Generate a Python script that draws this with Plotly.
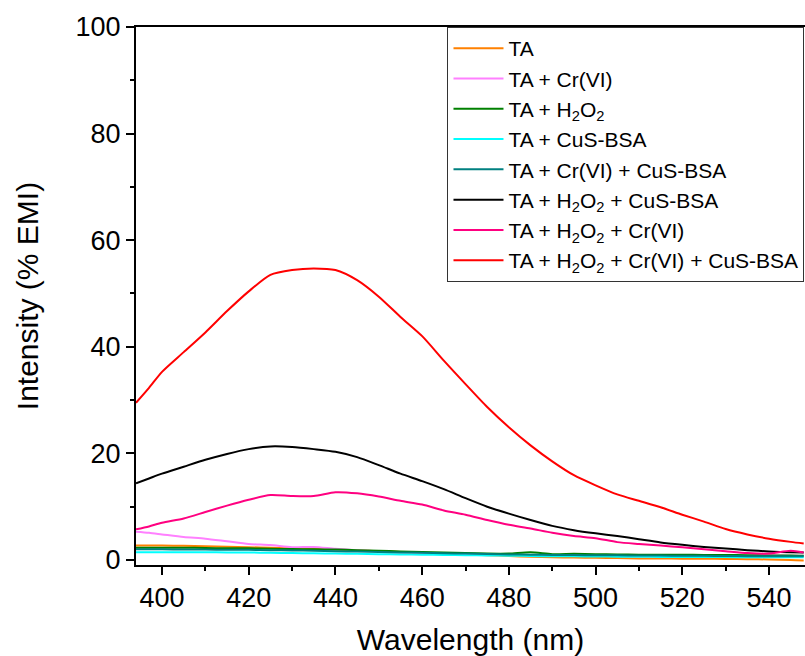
import plotly.graph_objects as go

wavelength = [394, 397, 400, 405, 410, 415, 420, 425, 430, 435, 440, 445, 450, 455, 460, 465,
              470, 475, 480, 485, 490, 495, 500, 505, 510, 515, 520, 525, 530, 535, 540, 545, 548]

ta = [2.7, 2.7, 2.7, 2.65, 2.6, 2.5, 2.4, 2.3, 2.2, 2.1, 1.95, 1.8, 1.65, 1.5, 1.35, 1.2,
      1.05, 0.9, 0.75, 0.6, 0.5, 0.45, 0.4, 0.35, 0.3, 0.3, 0.25, 0.25, 0.2, 0.15, 0.1, 0.0, -0.1]
ta_cr = [5.3, 5.1, 4.8, 4.3, 4.0, 3.5, 3.0, 2.8, 2.4, 2.45, 2.1, 1.85, 1.6, 1.45, 1.35, 1.25,
         1.1, 1.0, 0.95, 0.9, 0.85, 0.8, 0.8, 0.75, 0.7, 0.7, 0.65, 0.65, 0.7, 0.8, 0.9, 0.8, 0.8]
ta_h2o2 = [2.3, 2.3, 2.3, 2.3, 2.25, 2.2, 2.2, 2.1, 2.05, 2.0, 1.95, 1.85, 1.75, 1.6, 1.5, 1.4,
           1.3, 1.2, 1.2, 1.45, 1.1, 1.15, 1.1, 1.05, 1.0, 1.0, 1.0, 0.95, 0.95, 0.9, 0.85, 0.85, 0.8]
ta_cus = [1.45, 1.45, 1.45, 1.45, 1.45, 1.42, 1.4, 1.35, 1.3, 1.25, 1.2, 1.15, 1.1, 1.05, 1.0, 0.95,
          0.9, 0.85, 0.8, 0.75, 0.7, 0.68, 0.65, 0.62, 0.6, 0.58, 0.55, 0.55, 0.55, 0.52, 0.5, 0.5, 0.5]
ta_cr_cus = [2.0, 2.0, 2.0, 1.98, 1.95, 1.92, 1.9, 1.85, 1.8, 1.72, 1.65, 1.58, 1.5, 1.42, 1.35, 1.28,
             1.2, 1.12, 1.05, 1.0, 0.95, 0.92, 0.9, 0.88, 0.85, 0.82, 0.8, 0.78, 0.75, 0.72, 0.7, 0.7, 0.7]
ta_h2o2_cus = [14.4, 15.3, 16.2, 17.5, 18.8, 19.9, 20.8, 21.3, 21.2, 20.8, 20.3, 19.3, 17.8, 16.2, 14.8, 13.3,
               11.6, 10.0, 8.7, 7.5, 6.4, 5.6, 5.0, 4.5, 3.9, 3.3, 2.85, 2.45, 2.15, 1.85, 1.6, 1.45, 1.4]
ta_h2o2_cr = [5.75, 6.3, 7.0, 7.8, 9.0, 10.2, 11.3, 12.2, 12.0, 12.0, 12.7, 12.5, 11.9, 11.1, 10.4, 9.3,
              8.5, 7.5, 6.6, 5.9, 5.1, 4.5, 4.1, 3.35, 3.0, 2.7, 2.4, 2.0, 1.65, 1.3, 1.2, 1.75, 1.4]
ta_h2o2_cr_cus = [29.5, 32.3, 35.3, 39.0, 42.7, 46.7, 50.4, 53.5, 54.4, 54.7, 54.4, 52.5, 49.4, 45.6, 42.0, 37.4,
                  33.0, 28.7, 24.9, 21.5, 18.5, 15.9, 14.0, 12.3, 11.1, 9.9, 8.5, 7.2, 5.8, 4.8, 4.0, 3.4, 3.1]

series_names = [
    "TA",
    "TA + Cr(VI)",
    "TA + H<sub>2</sub>O<sub>2</sub>",
    "TA + CuS-BSA",
    "TA + Cr(VI) + CuS-BSA",
    "TA + H<sub>2</sub>O<sub>2</sub> + CuS-BSA",
    "TA + H<sub>2</sub>O<sub>2</sub> + Cr(VI)",
    "TA + H<sub>2</sub>O<sub>2</sub> + Cr(VI) + CuS-BSA",
]
series_values = [ta, ta_cr, ta_h2o2, ta_cus, ta_cr_cus, ta_h2o2_cus, ta_h2o2_cr, ta_h2o2_cr_cus]
series_colors = ["#FF8000", "#FF80FF", "#008000", "#00FFFF", "#008080", "#000000", "#FF0080", "#FF0000"]

fig = go.Figure()
for name, vals, col in zip(series_names, series_values, series_colors):
    fig.add_trace(go.Scatter(
        x=wavelength, y=vals, name=name, mode="lines",
        line=dict(color=col, width=2, shape="spline", smoothing=0.7),
    ))

axis_common = dict(
    showline=True, linecolor="black", linewidth=2, mirror=True,
    ticks="outside", ticklen=8, tickwidth=2, tickcolor="black",
    showgrid=False, zeroline=False, automargin=False,
    tickfont=dict(family="Liberation Sans, Arial", size=27, color="black"),
)

fig.update_layout(
    width=805, height=656,
    margin=dict(l=136, r=0, t=27, b=91, autoexpand=False),
    paper_bgcolor="white", plot_bgcolor="white",
    font=dict(family="Liberation Sans, Arial", color="black"),
    xaxis=dict(
        range=[394, 548.3], tick0=400, dtick=20,
        minor=dict(dtick=10, ticks="outside", ticklen=4, tickwidth=2, tickcolor="black"),
        title=dict(text="Wavelength (nm)", font=dict(size=30), standoff=17),
        **axis_common,
    ),
    yaxis=dict(
        range=[-0.94, 100], tick0=0, dtick=20,
        minor=dict(dtick=10, ticks="outside", ticklen=4, tickwidth=2, tickcolor="black"),
        title=dict(text="Intensity (% EMI)", font=dict(size=30), standoff=28),
        **axis_common,
    ),
    legend=dict(
        x=0.4656, y=1, xanchor="left", yanchor="top",
        bgcolor="white", bordercolor="#333333", borderwidth=1,
        font=dict(family="Liberation Sans, Arial", size=21, color="black"),
        itemwidth=50, tracegroupgap=0,
    ),
    showlegend=True,
)

fig.write_html(
    "out.html",
    config={"displayModeBar": False},
    post_script="document.body.style.margin='0';document.body.style.overflow='hidden';",
)
